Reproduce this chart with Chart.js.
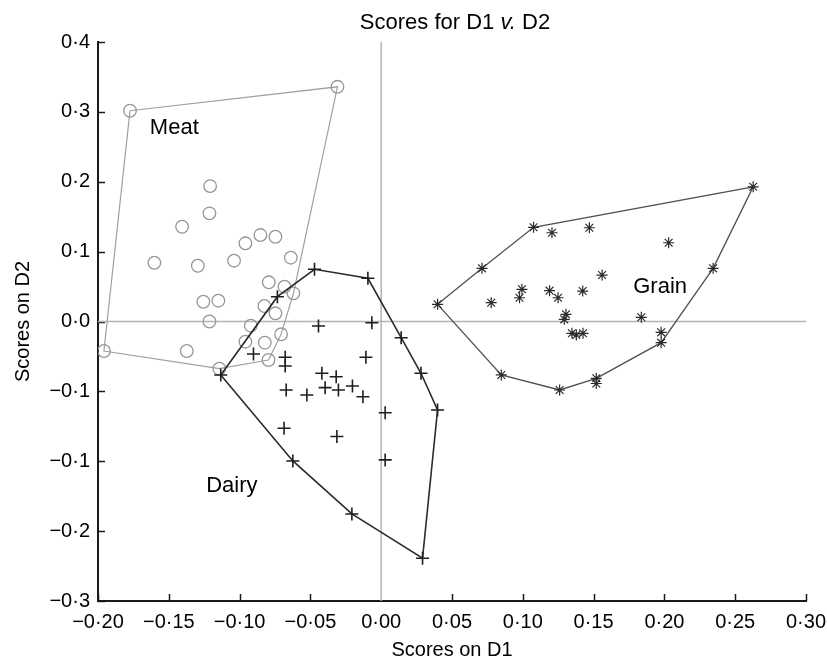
<!DOCTYPE html>
<html>
<head>
<meta charset="utf-8">
<title>Scores for D1 v. D2</title>
<script src="https://cdn.jsdelivr.net/npm/chart.js@4.4.1/dist/chart.umd.min.js"></script>
<style>
  html, body { margin: 0; padding: 0; background: #fff; }
  #myChart { display: block; }
</style>
</head>
<body>
<canvas id="myChart" width="827" height="664"></canvas>
<script>
// Meat samples (open circles)
const meatX = [-0.1774, -0.0309, -0.1208, -0.1213, -0.1406, -0.1602, -0.1295, -0.1039, -0.0959, -0.0853,
               -0.0747, -0.0638, -0.0794, -0.0683, -0.0620, -0.1256, -0.1150, -0.0825, -0.0747, -0.1213,
               -0.0921, -0.0959, -0.0707, -0.0822, -0.1373, -0.0796, -0.1143, -0.1958];
const meatY = [0.3016, 0.3359, 0.1938, 0.1548, 0.1356, 0.0841, 0.0798, 0.0870, 0.1119, 0.1237,
               0.1213, 0.0913, 0.0561, 0.0498, 0.0403, 0.0283, 0.0298, 0.0222, 0.0117, 0.0000,
               -0.0060, -0.0289, -0.0183, -0.0303, -0.0422, -0.0551, -0.0675, -0.0422];
const meatHull = [0, 1, 14, 22, 25, 26, 27, 0];

// Dairy samples (plus signs)
const dairyX = [-0.1133, -0.0733, -0.0471, -0.0094, 0.0141, 0.0281, 0.0398, 0.0292, -0.0207, -0.0624,
                -0.0443, -0.0066, -0.0902, -0.0678, -0.0678, -0.0108, -0.0419, -0.0318, -0.0671, -0.0525,
                -0.0396, -0.0302, -0.0203, -0.0129, 0.0028, -0.0686, -0.0313, 0.0028];
const dairyY = [-0.0765, 0.0355, 0.0747, 0.0618, -0.0232, -0.0741, -0.1266, -0.3388, -0.2754, -0.1996,
                -0.0064, -0.0017, -0.0465, -0.0512, -0.0637, -0.0512, -0.0741, -0.0790, -0.0980, -0.1052,
                -0.0947, -0.0980, -0.0923, -0.1076, -0.1305, -0.1528, -0.1645, -0.1981];
const dairyHull = [0, 1, 2, 3, 4, 5, 6, 7, 8, 9, 0];

// Grain samples (stars)
const grainX = [0.0398, 0.0712, 0.1076, 0.2627, 0.2344, 0.1977, 0.1519, 0.1260, 0.0848,
                0.1519, 0.1977, 0.1206, 0.1470, 0.2030, 0.1560, 0.0994, 0.0977, 0.0777, 0.1189,
                0.1249, 0.1423, 0.1305, 0.1293, 0.1347, 0.1378, 0.1425, 0.1837];
const grainY = [0.0246, 0.0761, 0.1348, 0.1928, 0.0761, -0.0303, -0.0813, -0.0980, -0.0765,
                -0.0887, -0.0155, 0.1270, 0.1342, 0.1127, 0.0665, 0.0461, 0.0340, 0.0269, 0.0441,
                0.0340, 0.0436, 0.0103, 0.0031, -0.0169, -0.0193, -0.0169, 0.0060];
const grainHull = [0, 1, 2, 3, 4, 5, 6, 7, 8, 0];

// group names written inside the plot
const labelNames = ['Meat', 'Dairy', 'Grain'];
const labelX = [-0.1461, -0.1055, 0.1970];
const labelY = [0.2775, -0.2349, 0.0491];

// tick labels as printed on the figure
const xTickLabels = ['\u22120\u00b720', '\u22120\u00b715', '\u22120\u00b710', '\u22120\u00b705', '0\u00b700',
                     '0\u00b705', '0\u00b710', '0\u00b715', '0\u00b720', '0\u00b725', '0\u00b730'];
const yTickLabels = ['\u22120\u00b73', '\u22120\u00b72', '\u22120\u00b71', '\u22120\u00b71', '0\u00b70',
                     '0\u00b71', '0\u00b72', '0\u00b73', '0\u00b74'];
const titleParts = ['Scores for D1 ', 'v.', ' D2'];

const FONT = "'Liberation Sans', Arial, sans-serif";

function points(xs, ys) {
    return xs.map((x, i) => ({ x: x, y: ys[i] }));
}

function hull(xs, ys, idx) {
    return idx.map(i => ({ x: xs[i], y: ys[i] }));
}

const innerTicks = {
    id: 'innerTicks',
    beforeDatasetsDraw(chart) {
        const { ctx, scales: { x, y } } = chart;
        ctx.save();
        ctx.strokeStyle = '#1a1a1a';
        ctx.lineWidth = 1.5;
        ctx.beginPath();
        x.ticks.forEach(t => {
            if (Math.abs(t.value) < 1e-9) return;
            const px = Math.round(x.getPixelForValue(t.value)) + 0.5;
            ctx.moveTo(px, y.bottom);
            ctx.lineTo(px, y.bottom - 7);
        });
        y.ticks.forEach(t => {
            const py = Math.round(y.getPixelForValue(t.value)) + 0.5;
            ctx.moveTo(x.left, py);
            ctx.lineTo(x.left + 7, py);
        });
        ctx.stroke();
        ctx.restore();
    }
};

const textPlugin = {
    id: 'texts',
    afterDraw(chart) {
        const { ctx, chartArea, scales: { x, y } } = chart;
        ctx.save();
        ctx.fillStyle = '#000';
        ctx.textBaseline = 'middle';

        // title, with the italic "v."
        const fonts = ['22px ' + FONT, 'italic 22px ' + FONT, '22px ' + FONT];
        let total = 0;
        const widths = titleParts.map((p, i) => {
            ctx.font = fonts[i];
            const w = ctx.measureText(p).width;
            total += w;
            return w;
        });
        let cx = (chartArea.left + chartArea.right) / 2 - total / 2 + 3;
        ctx.textAlign = 'left';
        titleParts.forEach((p, i) => {
            ctx.font = fonts[i];
            ctx.fillText(p, cx, chartArea.top - 19);
            cx += widths[i];
        });

        ctx.font = '22px ' + FONT;
        ctx.textAlign = 'center';
        labelNames.forEach((name, i) => {
            ctx.fillText(name, x.getPixelForValue(labelX[i]), y.getPixelForValue(labelY[i]));
        });
        ctx.restore();
    }
};

const ctx = document.getElementById('myChart').getContext('2d');
const chart = new Chart(ctx, {
    type: 'scatter',
    data: {
        datasets: [
            {
                data: [{ x: 0, y: -0.4 }, { x: 0, y: 0.4 }],
                showLine: true, pointRadius: 0, borderColor: '#b4b4b4', borderWidth: 1.5, order: 10
            },
            {
                data: [{ x: -0.2, y: 0 }, { x: 0.3, y: 0 }],
                showLine: true, pointRadius: 0, borderColor: '#b4b4b4', borderWidth: 1.5, order: 10
            },
            {
                data: hull(meatX, meatY, meatHull),
                showLine: true, pointRadius: 0, borderColor: '#a0a0a0', borderWidth: 1.2, order: 8
            },
            {
                data: points(meatX, meatY),
                pointStyle: 'circle', pointRadius: 6.3, pointBorderWidth: 1.3,
                pointBorderColor: '#969696', pointBackgroundColor: 'rgba(0,0,0,0)', order: 7
            },
            {
                data: hull(dairyX, dairyY, dairyHull),
                showLine: true, pointRadius: 0, borderColor: '#2a2a2a', borderWidth: 1.6, order: 6
            },
            {
                data: points(dairyX, dairyY),
                pointStyle: 'cross', pointRadius: 6.5, pointBorderWidth: 1.6,
                pointBorderColor: '#1e1e1e', order: 5
            },
            {
                data: hull(grainX, grainY, grainHull),
                showLine: true, pointRadius: 0, borderColor: '#505050', borderWidth: 1.3, order: 4
            },
            {
                data: points(grainX, grainY),
                pointStyle: 'star', pointRadius: 5.5, pointBorderWidth: 1.2,
                pointBorderColor: '#2a2a2a', order: 3
            }
        ]
    },
    options: {
        responsive: false,
        animation: false,
        events: [],
        layout: { padding: { top: 42, right: 21, bottom: 0, left: 0 } },
        plugins: {
            legend: { display: false },
            tooltip: { enabled: false },
            title: { display: false }
        },
        scales: {
            x: {
                type: 'linear',
                min: -0.2,
                max: 0.3,
                ticks: {
                    stepSize: 0.05,
                    padding: 9,
                    color: '#000',
                    font: { family: FONT, size: 20 },
                    maxRotation: 0,
                    autoSkip: false,
                    callback: (v, i) => xTickLabels[i]
                },
                grid: { drawOnChartArea: false, drawTicks: false },
                border: { display: true, color: '#1a1a1a', width: 2 },
                title: {
                    display: true,
                    text: 'Scores on D1',
                    color: '#000',
                    font: { family: FONT, size: 20 },
                    padding: { top: 0, bottom: 2 }
                },
                afterFit(scale) {
                    scale.height = 63;
                    scale.paddingLeft = 0;
                    scale.paddingRight = 0;
                }
            },
            y: {
                type: 'linear',
                min: -0.4,
                max: 0.4,
                ticks: {
                    stepSize: 0.1,
                    padding: 8,
                    color: '#000',
                    font: { family: FONT, size: 20 },
                    autoSkip: false,
                    callback: (v, i) => yTickLabels[i]
                },
                grid: { drawOnChartArea: false, drawTicks: false },
                border: { display: true, color: '#1a1a1a', width: 2 },
                title: {
                    display: true,
                    text: 'Scores on D2',
                    color: '#000',
                    font: { family: FONT, size: 20 },
                    padding: { top: 11, bottom: 0 }
                },
                afterFit(scale) {
                    scale.width = 98;
                    scale.paddingTop = 0;
                    scale.paddingBottom = 0;
                }
            }
        }
    },
    plugins: [innerTicks, textPlugin]
});
</script>
</body>
</html>
